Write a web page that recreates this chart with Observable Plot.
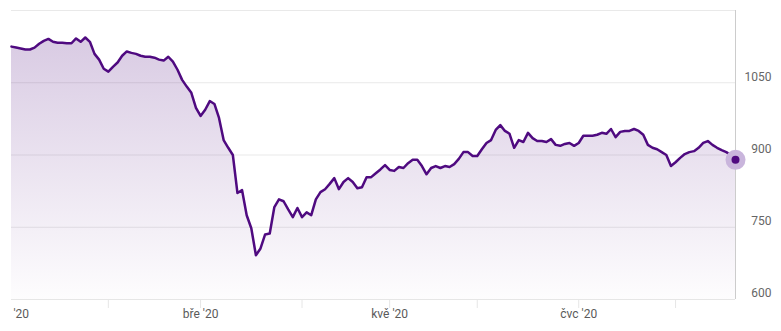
<!DOCTYPE html>
<html>
<head>
<meta charset="utf-8">
<script src="https://cdn.jsdelivr.net/npm/d3@7"></script>
<script src="https://cdn.jsdelivr.net/npm/@observablehq/plot@0.6"></script>
<style>
  html, body { margin: 0; padding: 0; background: #fff; }
  #chart svg { display: block; }
</style>
</head>
<body>
<div id="chart"></div>
<script>
// Daily closing values (trading days, 2 Jan 2020 – mid Aug 2020)
const values = [
  1125, 1123, 1121, 1119, 1119, 1123, 1131, 1137, 1141, 1135,
  1133, 1133, 1132, 1132, 1142, 1135, 1144, 1135, 1110, 1098,
  1079, 1073, 1083, 1092, 1106, 1115, 1112, 1110, 1106, 1104,
  1104, 1102, 1098, 1096, 1104, 1094, 1077, 1056, 1042, 1029,
  998, 981, 994, 1012, 1006, 977, 931, 915, 900, 821,
  827, 775, 748, 692, 706, 735, 737, 792, 808, 804,
  787, 771, 790, 771, 781, 775, 808, 823, 829, 840,
  852, 829, 844, 852, 844, 831, 833, 854, 854, 862,
  870, 879, 869, 867, 875, 873, 883, 890, 890, 877,
  860, 873, 877, 873, 877, 875, 881, 892, 906, 906,
  898, 898, 912, 925, 931, 952, 962, 950, 944, 915,
  931, 927, 946, 935, 929, 929, 927, 933, 921, 919,
  923, 925, 919, 925, 940, 940, 940, 942, 946, 944,
  954, 937, 948, 950, 950, 954, 950, 942, 921, 915,
  912, 906, 900, 877, 885, 894, 902, 906, 908, 915,
  925, 929, 921, 915, 910, 906, 900, 890
];

// Month starts (trading-day index) and their labels
const monthTickIdx = [21, 41, 63, 82, 101, 123, 144];
const labelTickIdx = [41, 82, 123];
const labelTexts = ["bře '20", "kvě '20", "čvc '20"];
// first month label, only its visible part at the left edge
const firstLabelIdx = [0];
const firstLabelText = ["'20"];

// Value axis
const yTickValues = [600, 750, 900, 1050];
const yGridValues = [600, 750, 900, 1050, 1200];

const data = values.map((v, i) => ({i, v}));
const last = data[data.length - 1];
const labelMap = new Map(labelTickIdx.map((d, k) => [d, labelTexts[k]]));
const firstLabels = firstLabelIdx.map((d, k) => ({i: d, t: firstLabelText[k]}));

const lineColor = "#4f0a80";

const plot = Plot.plot({
  width: 781,
  height: 331,
  marginLeft: 11,
  marginRight: 46,
  marginTop: 10,
  marginBottom: 32,
  x: {domain: [0, values.length - 1], axis: null},
  y: {domain: [600, 1200], axis: null},
  style: {fontFamily: "Roboto, Arial, sans-serif", fontSize: "12px", background: "#fff"},
  marks: [
    Plot.ruleY(yGridValues, {stroke: "#e9e9e9", strokeWidth: 1}),
    Plot.areaY(data, {x: "i", y1: 600, y2: "v", fill: "url(#areaGrad)"}),
    Plot.ruleY([600], {stroke: "#e6e6e6", strokeWidth: 1}),
    Plot.ruleX([values.length - 1], {stroke: "#cccccc", strokeWidth: 1}),
    Plot.axisX({ticks: monthTickIdx, tickSize: 9, tickFormat: () => "", stroke: "#e6e6e6", label: null}),
    Plot.axisX({ticks: labelTickIdx, tickSize: 0, tickPadding: 10, tickFormat: d => labelMap.get(d), fill: "#5a5a5a", fontSize: 12, label: null}),
    Plot.text(firstLabels, {x: "i", y: 600, text: "t", textAnchor: "start", dx: 2, dy: 15, fill: "#5a5a5a", fontSize: 12}),
    Plot.axisY({anchor: "right", ticks: yTickValues, tickSize: 0, tickPadding: 36, textAnchor: "end", dy: -6, tickFormat: d => String(d), fill: "#666", fontSize: 12, label: null}),
    Plot.line(data, {x: "i", y: "v", stroke: lineColor, strokeWidth: 2.5, strokeLinejoin: "round", strokeLinecap: "round"}),
    Plot.dot([last], {x: "i", y: "v", r: 10, fill: "#c9b5dc", stroke: "none"}),
    Plot.dot([last], {x: "i", y: "v", r: 4, fill: lineColor, stroke: "none"})
  ]
});

const svg = d3.select(plot);
const defs = svg.insert("defs", ":first-child");
const grad = defs.append("linearGradient")
  .attr("id", "areaGrad")
  .attr("gradientUnits", "userSpaceOnUse")
  .attr("x1", 0).attr("x2", 0)
  .attr("y1", 10).attr("y2", 299);
grad.append("stop").attr("offset", "0%").attr("stop-color", "#50107f").attr("stop-opacity", 0.24);
grad.append("stop").attr("offset", "100%").attr("stop-color", "#50107f").attr("stop-opacity", 0.01);

document.getElementById("chart").appendChild(plot);
</script>
</body>
</html>
